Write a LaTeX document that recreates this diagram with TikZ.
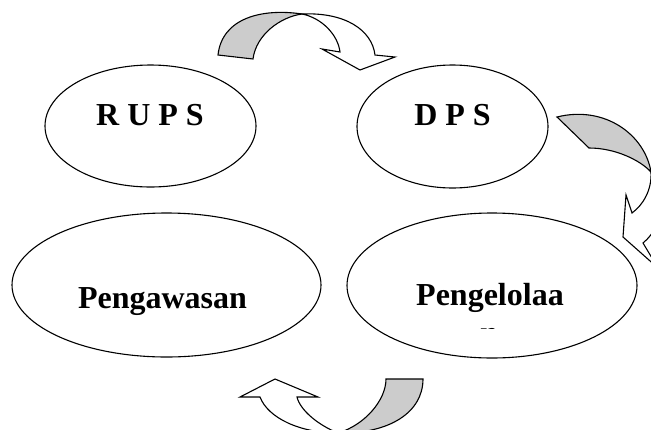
\documentclass[tikz,border=0pt]{standalone}
\usepackage{fontspec}
\setmainfont{Liberation Serif}
\usepackage{tikz}
\usetikzlibrary{shapes.geometric, positioning}

\tikzset{
  organ/.style={ellipse, draw, line width=1.1pt, inner sep=0pt},
  judul/.style={anchor=base, inner sep=0pt, font=\fontsize{32}{37}\selectfont\bfseries},
  panahbelakang/.style={draw, line width=1.1pt, fill=black!20, line join=miter},
  panahdepan/.style={draw, line width=1.1pt, fill=white, line join=miter}
}

\begin{document}
\begin{tikzpicture}[x=1pt, y=-1pt]
            \useasboundingbox (0,0) rectangle (651,429);

            % Objects
            \node[organ, minimum width=211pt, minimum height=122pt] (rups) at (150.5,126) {};
            \node[organ, minimum width=191pt, minimum height=123pt] (dps) at (452.5,126.5) {};
            \node[organ, minimum width=309pt, minimum height=144pt] (awas) at (166.5,285) {};
            \node[organ, minimum width=290pt, minimum height=145pt] (kelola) at (492,285.5) {};

            % Labels
            \node[judul] (trups) at (150,125) {R U P S};
            \node[judul] (tdps) at (452.5,125) {D P S};
            \node[judul] (tawas) at (162.5,308) {Pengawasan};
            \node[judul] (tkelola) at (490,305) {Pengelolaa};
            \begin{scope}
              \clip (440,318) rectangle (540,328.6);
              \node[judul] (tkelolan) at (489,343) {n};
            \end{scope}

            % Curved arrows
            \begin{scope}
              \clip (0,0) rectangle (651,429);
              % RUPS -> DPS
              \path[panahbelakang] (218,55) .. controls (222,18) and (262,8) .. (302,14)
                .. controls (280,17) and (256,35) .. (253,59) -- cycle;
              \path[panahdepan] (302,14) .. controls (345,12) and (372,30) .. (375,55)
                -- (395,57) -- (360,70) -- (322,49) -- (340,52)
                .. controls (338,35) and (322,18) .. (302,14) -- cycle;
              % DPS -> Pengelolaan
              \path[panahbelakang] (557,117) .. controls (605,105) and (645,135) .. (651,172)
                .. controls (640,160) and (615,148) .. (589,148) -- cycle;
              \path[panahdepan] (651,172) .. controls (652,190) and (643,205) .. (632,213)
                -- (626,195) -- (623,237) -- (658,268) -- (643,243)
                .. controls (665,225) and (668,190) .. (651,172) -- cycle;
              % Pengelolaan -> Pengawasan
              \path[panahbelakang] (386,379) -- (423,379) .. controls (423,412) and (390,434) .. (338,433)
                .. controls (365,425) and (386,400) .. (386,379) -- cycle;
              \path[panahdepan] (338,433) .. controls (318,425) and (300,410) .. (297,397)
                -- (318,397) -- (275,379) -- (240,397) -- (260,397)
                .. controls (268,418) and (300,433) .. (338,433) -- cycle;
            \end{scope}
        \end{tikzpicture}
\end{document}
